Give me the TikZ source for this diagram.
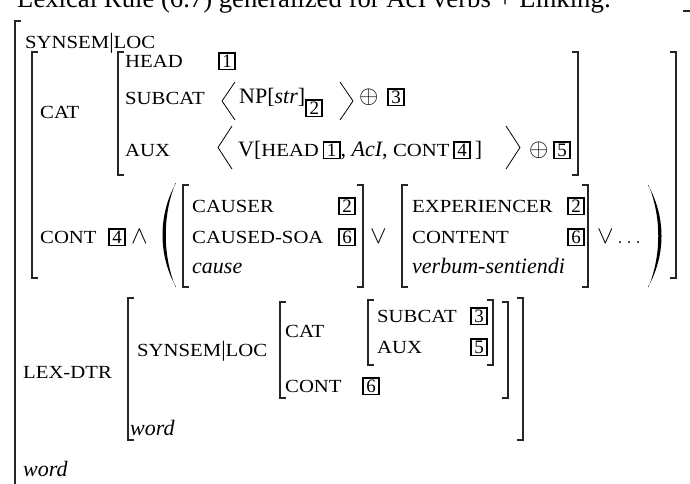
\documentclass[tikz,border=0pt]{standalone}
\usepackage{fontspec}
\setmainfont{Liberation Serif}
\newfontfamily\scf[FakeStretch=1.12]{Liberation Serif}
\newcommand\Sc[1]{{\scf\fontsize{18.5}{18.5}\selectfont #1}}
\newcommand\Tg[1]{{\setlength{\fboxrule}{1.8pt}\setlength{\fboxsep}{0.5pt}\fbox{\rule[-1pt]{0pt}{13.4pt}\makebox[13.4pt]{\fontsize{19}{19}\selectfont #1}}}}
\newcommand\Op[1]{{\fontsize{27}{27}\selectfont$#1$}}
\newcommand\LB[3]{\draw[brk] ({#1+6},#2) -- (#1,#2) -- (#1,#3) -- ({#1+6},#3);}
\newcommand\RB[3]{\draw[brk] ({#1-6},#2) -- (#1,#2) -- (#1,#3) -- ({#1-6},#3);}
\newcommand\AVM[4]{\LB{#1}{#3}{#4}\RB{#2}{#3}{#4}}
\newcommand\LA[4]{\draw[ang] (#2,#3) -- (#1,{(#3+#4)/2}) -- (#2,#4);}
\newcommand\RA[4]{\draw[ang] (#1,#3) -- (#2,{(#3+#4)/2}) -- (#1,#4);}
\begin{document}
\begin{tikzpicture}[x=1pt,y=-1pt,
  every node/.style={font=\fontsize{22}{24}\selectfont, inner sep=0pt, anchor=base west},
  brk/.style={line width=1.3pt, line join=miter, draw=black!85},
  ang/.style={line width=0.8pt, line join=miter}]
\clip (0,0) rectangle (690,483);
\fill[white] (0,0) rectangle (690,483);
% title (cut off at the top)
\node[font=\fontsize{26.7}{28}\selectfont] (title) at (17,7) {Lexical Rule (6.7) generalized for AcI verbs + Linking:};
% outer brackets
\LB{15}{21}{520}
\draw[brk] (683,11) -- (692,11) -- (692,600);
\node (ssl) at (25,48) {\Sc{SYNSEM}\textbar\Sc{LOC}};
% level 2
\AVM{32}{676}{52}{278}
\node (cat) at (40,118) {\Sc{CAT}};
\AVM{118}{578}{52}{175}
\node (head) at (125,67) {\Sc{HEAD}};
\node (t1) at (218,67) {\Tg{1}};
\node (subcat) at (125,104) {\Sc{SUBCAT}};
\LA{222}{235}{82}{120}
\node (np) at (239,103) {NP[\textit{str}]\raisebox{-11pt}{\Tg{2}}};
\RA{340}{353}{82}{120}
\node (op1) at (359,103) {\Op{\oplus}};
\node (t3) at (387,103) {\Tg{3}};
\node (aux) at (125,156) {\Sc{AUX}};
\LA{218}{232}{126}{169}
\node (v) at (238,156) {V[\Sc{HEAD}\,\Tg{1}, \textit{AcI}, \Sc{CONT}\,\Tg{4}\,]};
\RA{506}{520}{126}{169}
\node (op2) at (529,156) {\Op{\oplus}};
\node (t5) at (553,156) {\Tg{5}};
% CONT
\node (cont) at (40,243) {\Sc{CONT}};
\node (t4) at (108,243) {\Tg{4}};
\node (and) at (131,243) {\Op{\wedge}};
\fill (176,183) .. controls (158,215) and (158,255) .. (176,287)
   -- (175.5,287) .. controls (162.5,255) and (162.5,215) .. (175.5,183) -- cycle;
\AVM{183}{363}{185}{287}
\node (causer) at (192,212) {\Sc{CAUSER}};
\node (t2a) at (338,212) {\Tg{2}};
\node (csoa) at (192,243) {\Sc{CAUSED-SOA}};
\node (t6a) at (338,243) {\Tg{6}};
\node (cause) at (192,273) {\textit{cause}};
\node (or1) at (370,243) {\Op{\vee}};
\AVM{402}{588}{185}{287}
\node (exp) at (412,212) {\Sc{EXPERIENCER}};
\node (t2b) at (567,212) {\Tg{2}};
\node (content) at (412,243) {\Sc{CONTENT}};
\node (t6b) at (567,243) {\Tg{6}};
\node (vs) at (412,273) {\textit{verbum-sentiendi}};
\node (or2) at (597,243) {\Op{\vee}$\,\dots$};
\fill (648,185) .. controls (666,217) and (666,255) .. (648,287)
   -- (648.5,287) .. controls (661.5,255) and (661.5,217) .. (648.5,185) -- cycle;
% LEX-DTR
\node (lex) at (23,378) {\Sc{LEX-DTR}};
\AVM{128}{523}{298}{440}
\node (ssl2) at (137,356) {\Sc{SYNSEM}\textbar\Sc{LOC}};
\AVM{280}{508}{302}{398}
\node (cat2) at (285,337) {\Sc{CAT}};
\AVM{368}{493}{300}{365}
\node (subcat2) at (377,322) {\Sc{SUBCAT}};
\node (t3b) at (470,322) {\Tg{3}};
\node (aux2) at (377,353) {\Sc{AUX}};
\node (t5b) at (470,353) {\Tg{5}};
\node (cont2) at (285,392) {\Sc{CONT}};
\node (t6c) at (362,392) {\Tg{6}};
\node (word1) at (130,435) {\textit{word}};
\node (word2) at (23,476) {\textit{word}};
\end{tikzpicture}
\end{document}
